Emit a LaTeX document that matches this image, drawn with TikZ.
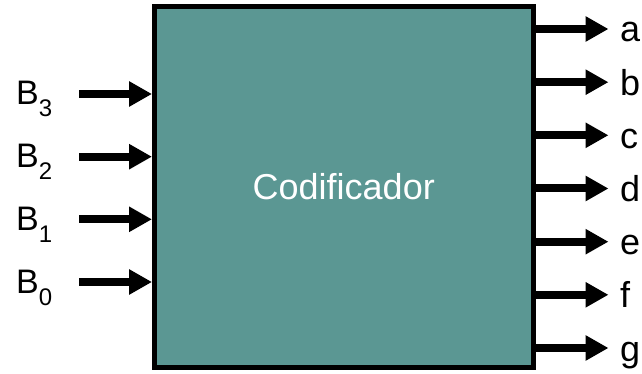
\documentclass[tikz,border=0pt]{standalone}
\usepackage{fontspec}
\setmainfont{Liberation Sans}
\usetikzlibrary{arrows.meta}
\definecolor{tealbox}{RGB}{91,151,147}
\tikzset{
  sig/.style={line width=8pt, -{Triangle[length=23pt,width=24pt]}},
  inlabel/.style={anchor=base west, inner sep=0pt, font=\fontsize{34}{34}\selectfont},
  outlabel/.style={anchor=base west, inner sep=0pt, font=\fontsize{36}{36}\selectfont},
}
\newcommand{\bsub}[1]{B\raisebox{-12pt}{\fontsize{24}{24}\selectfont #1}}
\begin{document}
\begin{tikzpicture}[x=1pt,y=-1pt]
\useasboundingbox (0,0) rectangle (642,374);
\node[draw=black, line width=5pt, fill=tealbox, minimum width=378.5pt, minimum height=361pt,
      inner sep=0pt, text=white, font=\fontsize{36}{36}\selectfont] (box) at (343.75,187) {Codificador};
% inputs
\foreach \n/\y in {3/94, 2/156.7, 1/219.3, 0/282} {
  \coordinate (in\n) at (79,\y);
  \draw[sig] (in\n) -- (box.west |- in\n);
  \node[inlabel] (lb\n) at (16,\y+11) {\bsub{\n}};
}
% outputs
\foreach \l/\y in {a/29, b/82.2, c/135.3, d/188.5, e/241.7, f/294.8, g/348} {
  \coordinate (out\l) at (608.5,\y);
  \draw[sig] (box.east |- out\l) -- (out\l);
  \node[outlabel] (lb\l) at (620,\y+13) {\l};
}
\end{tikzpicture}
\end{document}
